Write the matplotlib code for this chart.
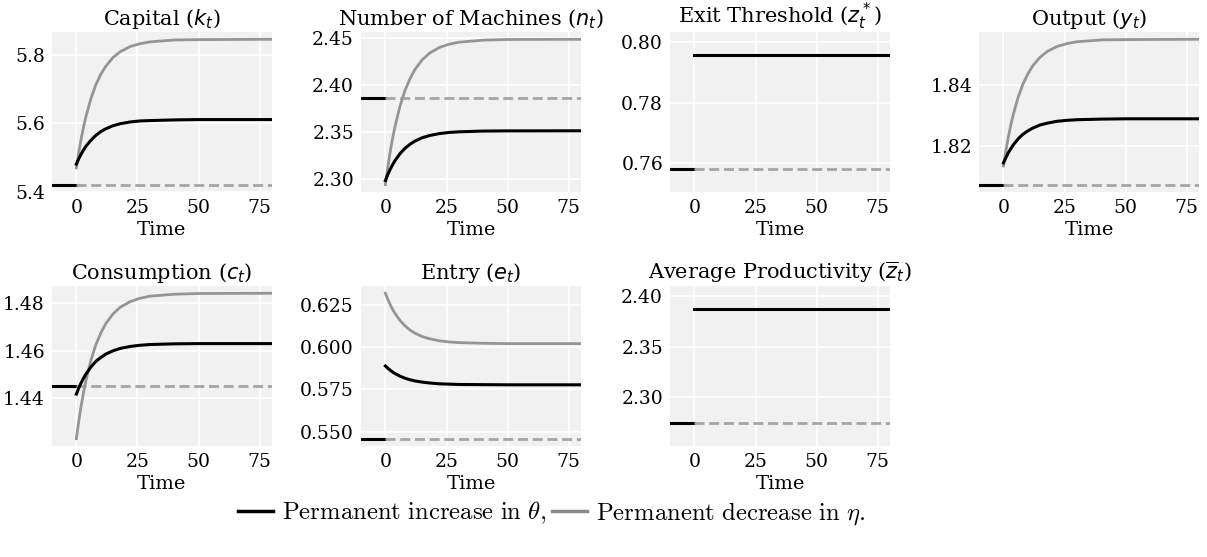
import matplotlib
matplotlib.use('Agg')
import matplotlib.pyplot as plt
from matplotlib.lines import Line2D
from matplotlib.ticker import MaxNLocator

# Time grids
t_pre = [-10, 0]
t_flat = [0, 80]
t_path = [0, 1, 2, 3, 4, 6, 8, 10, 12, 15, 18, 22, 26, 30, 40, 50, 80]

# Capital
capital_ss = 5.421
capital_theta = [5.481, 5.497, 5.511, 5.523, 5.534, 5.551, 5.565, 5.576, 5.584,
                 5.593, 5.599, 5.604, 5.607, 5.608, 5.610, 5.611, 5.611]
capital_eta = [5.470, 5.516, 5.556, 5.591, 5.622, 5.673, 5.713, 5.743, 5.766,
               5.792, 5.809, 5.824, 5.832, 5.8375, 5.843, 5.844, 5.845]

# Number of machines
machines_ss = 2.3855
machines_theta = [2.298, 2.3045, 2.3101, 2.3151, 2.3195, 2.3267, 2.3323, 2.3365, 2.3399,
                  2.3435, 2.3459, 2.3480, 2.3492, 2.3499, 2.3507, 2.3509, 2.351]
machines_eta = [2.2935, 2.3124, 2.3290, 2.3436, 2.3563, 2.3775, 2.3938, 2.4062, 2.4160,
                2.4265, 2.4336, 2.4397, 2.4432, 2.4454, 2.4476, 2.4483, 2.4485]

# Exit threshold
exit_ss = 0.7581
exit_theta = 0.7959

# Output
output_ss = 1.8075
output_theta = [1.8146, 1.8163, 1.8179, 1.8192, 1.8204, 1.8224, 1.8239, 1.8250, 1.8259,
                1.8269, 1.8275, 1.8281, 1.8284, 1.8286, 1.8288, 1.8289, 1.8289]
output_eta = [1.8136, 1.8186, 1.8230, 1.8269, 1.8302, 1.8359, 1.8402, 1.8435, 1.8461,
              1.8489, 1.8508, 1.8524, 1.8533, 1.8539, 1.8545, 1.8546, 1.8547]

# Consumption
cons_ss = 1.4454
cons_theta = [1.4418, 1.4444, 1.4466, 1.4486, 1.4503, 1.4532, 1.4555, 1.4571, 1.4585,
              1.4599, 1.4609, 1.4617, 1.4622, 1.4625, 1.4628, 1.4629, 1.4629]
cons_eta = [1.4232, 1.4306, 1.4371, 1.4428, 1.4478, 1.4561, 1.4625, 1.4673, 1.4712,
            1.4753, 1.4781, 1.4804, 1.4818, 1.4827, 1.4835, 1.4838, 1.4839]

# Entry
entry_ss = 0.5459
entry_theta = [0.5888, 0.5875, 0.5863, 0.5852, 0.5843, 0.5828, 0.5816, 0.5807, 0.5800,
               0.5793, 0.5788, 0.5783, 0.5781, 0.5779, 0.5778, 0.5777, 0.5777]
entry_eta = [0.6317, 0.6281, 0.6249, 0.6221, 0.6197, 0.6156, 0.6125, 0.6101, 0.6082,
             0.6062, 0.6049, 0.6037, 0.6030, 0.6026, 0.6022, 0.6020, 0.6020]

# Average productivity
prod_ss = 2.2735
prod_theta = 2.3876

titles = [r'Capital ($k_t$)', r'Number of Machines ($n_t$)', r'Exit Threshold ($z^*_t$)',
          r'Output ($y_t$)', r'Consumption ($c_t$)', r'Entry ($e_t$)',
          r'Average Productivity ($\overline{z}_t$)']

BLACK = '#000000'
GREY = '#959595'
DASH = '#a5a5a5'

plt.rcParams['font.family'] = 'DejaVu Serif'
plt.rcParams['axes.facecolor'] = '#f1f1f1'

fig, axes = plt.subplots(2, 4, figsize=(12.07, 5.57), dpi=100)
fig.subplots_adjust(left=0.043, right=0.9934, top=0.9425, bottom=0.1993,
                    wspace=0.4045, hspace=0.5875)
axs = axes.flatten()


def panel(ax, title, ss, theta, eta=None):
	ax.plot(t_pre, [ss, ss], color=BLACK, lw=2.2)
	ax.plot(t_flat, [ss, ss], color=DASH, lw=2.0, ls=(0, (3.6, 1.7)))
	if eta is not None:
		ax.plot(t_path, eta, color=GREY, lw=2.0)
	if isinstance(theta, list):
		ax.plot(t_path, theta, color=BLACK, lw=2.2)
	else:
		ax.plot(t_flat, [theta, theta], color=BLACK, lw=2.2)
		ax.margins(y=0.2)
	ax.set_xlim(-10, 80)
	ax.set_title(title, fontsize=15, pad=5)
	ax.set_xlabel('Time', fontsize=14, labelpad=3)
	ax.xaxis.set_major_locator(MaxNLocator(nbins=4, steps=[1, 2, 2.5, 5, 10]))
	ax.yaxis.set_major_locator(MaxNLocator(nbins=4, steps=[1, 2, 2.5, 5, 10]))
	ax.grid(True, color='white', lw=1.2)
	ax.set_axisbelow(True)
	for s in ax.spines.values():
		s.set_visible(False)
	ax.tick_params(length=0, labelsize=13.5, pad=5)


panel(axs[0], titles[0], capital_ss, capital_theta, capital_eta)
panel(axs[1], titles[1], machines_ss, machines_theta, machines_eta)
panel(axs[2], titles[2], exit_ss, exit_theta)
panel(axs[3], titles[3], output_ss, output_theta, output_eta)
panel(axs[4], titles[4], cons_ss, cons_theta, cons_eta)
panel(axs[5], titles[5], entry_ss, entry_theta, entry_eta)
panel(axs[6], titles[6], prod_ss, prod_theta)
axs[7].axis('off')

handles = [Line2D([], [], color=BLACK, lw=2.5), Line2D([], [], color='#8a8a8a', lw=2.5)]
labels = [r'$\mathrm{Permanent\ increase\ in}\ \theta,$',
          r'$\mathrm{Permanent\ decrease\ in}\ \eta.$']
leg = fig.legend(handles, labels, loc='center', bbox_to_anchor=(0.457, 0.079), ncol=2,
                 frameon=False, fontsize=17.8, handlelength=1.4, handletextpad=0.35,
                 columnspacing=0.25)
for txt in leg.get_texts():
	txt.set_math_fontfamily('cm')

fig.savefig('out.png', dpi=100)
